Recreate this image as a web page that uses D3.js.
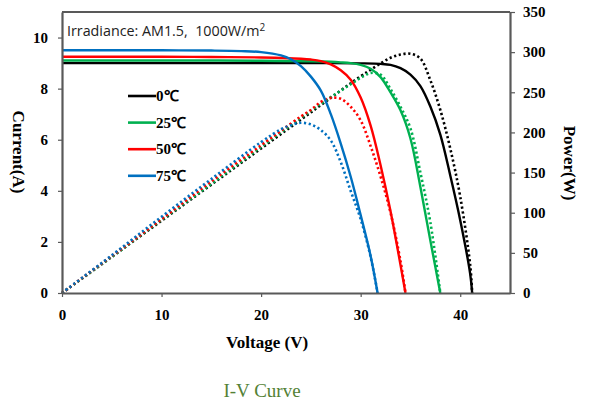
<!DOCTYPE html>
<html>
<head>
<meta charset="utf-8">
<script src="https://cdn.jsdelivr.net/npm/d3@7"></script>
<style>
  body { margin: 0; background: #fff; }
  #grafico { width: 592px; height: 403px; }
  .axis path, .axis line { stroke: #595959; }
  .axis text { font-family: "Liberation Serif", "Times New Roman", serif; font-weight: bold; font-size: 15px; fill: #000; }
</style>
</head>
<body>
<div id="grafico"></div>
<script>
// temperatures shown in the legend
var temps = ["0℃", "25℃", "50℃", "75℃"];
var cores = ["#000000", "#00b050", "#ff0000", "#0070c0"];

// I-V curves (voltage in V, current in A)
var v_0 = [0, 5, 10, 15, 20, 25, 30, 32, 33, 34, 35, 36, 37, 38, 39, 40, 41, 41.2];
var i_0 = [9.0, 9.0, 9.0, 9.0, 9.0, 9.0, 8.99, 8.97, 8.93, 8.8, 8.55, 8.1, 7.3, 6.2, 4.6, 2.85, 0.75, 0];
var v_25 = [0, 5, 10, 15, 20, 25, 27, 28, 29, 30, 31, 32, 33, 34, 35, 36, 37, 38];
var i_25 = [9.1, 9.1, 9.1, 9.1, 9.09, 9.07, 9.05, 9.03, 9.0, 8.93, 8.78, 8.45, 7.85, 7.15, 6.05, 4.15, 2.05, 0];
var v_50 = [0, 5, 10, 15, 20, 22, 24, 25, 26, 27, 28, 29, 30, 31, 32, 33, 34, 34.5];
var i_50 = [9.25, 9.25, 9.25, 9.24, 9.22, 9.2, 9.17, 9.14, 9.08, 8.95, 8.72, 8.35, 7.65, 6.55, 5.0, 3.2, 1.1, 0];
var v_75 = [0, 5, 10, 15, 18, 20, 22, 23, 24, 25, 26, 27, 28, 29, 30, 31, 31.7];
var i_75 = [9.5, 9.5, 9.5, 9.49, 9.47, 9.43, 9.3, 9.15, 8.88, 8.47, 7.92, 7.0, 5.85, 4.55, 3.05, 1.45, 0];

// P-V curves (dotted) (voltage in V, power in W)
var pv_0 = [0, 5, 10, 15, 20, 25, 30, 31, 32, 33, 34, 35, 36, 37, 38, 39, 40, 41, 41.2];
var p_0 = [0, 45, 90, 135, 180, 225, 270, 278, 286, 293, 297, 298, 292, 265, 228, 180, 120, 35, 0];
var pv_25 = [0, 5, 10, 15, 20, 25, 27, 28, 29, 30, 31, 32, 33, 34, 35, 36, 37, 38];
var p_25 = [0, 45, 91, 136, 182, 227, 244, 252, 260, 268, 274, 272, 254, 232, 205, 150, 88, 0];
var pv_50 = [0, 5, 10, 15, 20, 22, 24, 25, 26, 27, 28, 29, 30, 31, 32, 33, 34, 34.5];
var p_50 = [0, 46, 92, 139, 184, 202, 220, 228, 238, 243, 242, 232, 215, 183, 145, 100, 40, 0];
var pv_75 = [0, 5, 10, 15, 20, 22, 23, 24, 25, 26, 27, 28, 29, 30, 31, 31.7];
var p_75 = [0, 47, 95, 142, 188, 204, 209, 212, 210, 203, 190, 163, 127, 92, 45, 0];

// axis ticks
var ticks_x = [0, 10, 20, 30, 40];
var ticks_i = [0, 2, 4, 6, 8, 10];
var ticks_p = [0, 50, 100, 150, 200, 250, 300, 350];

function junta(xs, ys) {
	return xs.map(function(d, k) { return {v: d, y: ys[k]}; });
}

var curvas_iv = [junta(v_0, i_0), junta(v_25, i_25), junta(v_50, i_50), junta(v_75, i_75)];
var curvas_pv = [junta(pv_0, p_0), junta(pv_25, p_25), junta(pv_50, p_50), junta(pv_75, p_75)];

function monta_grafico() {

	var margin = {top: 12, right: 82, bottom: 110, left: 62},
		width = 592 - margin.left - margin.right,
		height = 403 - margin.top - margin.bottom;

	var x = d3.scaleLinear().domain([0, 45]).range([0, width]);
	var yI = d3.scaleLinear().domain([0, 11]).range([height, 0]);
	var yP = d3.scaleLinear().domain([0, 350]).range([height, 0]);

	var svg = d3.select("#grafico").append("svg")
		.attr("width", 592)
		.attr("height", 403);

	var g = svg.append("g")
		.attr("transform", "translate(" + margin.left + "," + margin.top + ")");

	// top border of the plot box
	g.append("line")
		.attr("x1", 0).attr("x2", width)
		.attr("y1", 0).attr("y2", 0)
		.style("stroke", "#222")
		.style("stroke-width", 1.5);

	// power lines (dotted), drawn first
	var linhaP = d3.line()
		.x(function(d) { return x(d.v); })
		.y(function(d) { return yP(d.y); })
		.curve(d3.curveCatmullRom.alpha(0.5));

	curvas_pv.forEach(function(c, k) {
		g.append("path")
			.datum(c)
			.attr("d", linhaP)
			.style("fill", "none")
			.style("stroke", cores[k])
			.style("stroke-width", 2.6)
			.style("stroke-dasharray", "2.2,2.6");
	});

	// current lines
	var linhaI = d3.line()
		.x(function(d) { return x(d.v); })
		.y(function(d) { return yI(d.y); })
		.curve(d3.curveCatmullRom.alpha(0.5));

	curvas_iv.forEach(function(c, k) {
		g.append("path")
			.datum(c)
			.attr("d", linhaI)
			.style("fill", "none")
			.style("stroke", cores[k])
			.style("stroke-width", 2.4);
	});

	// axes
	var ax = g.append("g")
		.attr("class", "axis")
		.attr("transform", "translate(0," + height + ")")
		.call(d3.axisBottom(x).tickValues(ticks_x).tickSize(4).tickPadding(12).tickSizeOuter(0));

	var ayI = g.append("g")
		.attr("class", "axis")
		.call(d3.axisLeft(yI).tickValues(ticks_i).tickSize(4).tickPadding(10).tickSizeOuter(0));

	var ayP = g.append("g")
		.attr("class", "axis")
		.attr("transform", "translate(" + width + ",0)")
		.call(d3.axisRight(yP).tickValues(ticks_p).tickSize(5).tickPadding(8).tickSizeOuter(0));

	[ax, ayI, ayP].forEach(function(a) {
		a.select(".domain").style("stroke-width", 2.2);
		a.selectAll(".tick line").style("stroke-width", 1.2);
	});

	// axis titles
	svg.append("text")
		.attr("x", margin.left + x(20.6))
		.attr("y", 348)
		.attr("text-anchor", "middle")
		.style("font-family", "Liberation Serif, serif")
		.style("font-weight", "bold")
		.style("font-size", "17px")
		.text("Voltage (V)");

	svg.append("text")
		.attr("transform", "translate(13,152) rotate(90)")
		.attr("text-anchor", "middle")
		.style("font-family", "Liberation Serif, serif")
		.style("font-weight", "bold")
		.style("font-size", "17px")
		.text("Current(A)");

	svg.append("text")
		.attr("transform", "translate(564,163) rotate(90)")
		.attr("text-anchor", "middle")
		.style("font-family", "Liberation Serif, serif")
		.style("font-weight", "bold")
		.style("font-size", "17px")
		.text("Power(W)");

	// irradiance note
	var nota = svg.append("text")
		.attr("x", 67)
		.attr("y", 36)
		.style("font-family", "Open Sans, sans-serif")
		.style("font-size", "14.3px")
		.style("fill", "#222")
		.text("Irradiance: AM1.5,\u00a0\u00a01000W/m");
	nota.append("tspan")
		.attr("dy", -5)
		.style("font-size", "10px")
		.text("2");

	// legend
	var leg = svg.append("g");
	temps.forEach(function(t, k) {
		var yy = 96 + k * 26.6;
		leg.append("line")
			.attr("x1", 128).attr("x2", 156)
			.attr("y1", yy).attr("y2", yy)
			.style("stroke", cores[k])
			.style("stroke-width", 2.6);
		leg.append("text")
			.attr("x", 156)
			.attr("y", yy + 5)
			.style("font-family", "Liberation Serif, serif")
			.style("font-weight", "bold")
			.style("font-size", "15px")
			.text(t);
	});

	// caption below the chart
	svg.append("text")
		.attr("x", 262)
		.attr("y", 397)
		.attr("text-anchor", "middle")
		.style("font-family", "Liberation Serif, serif")
		.style("font-size", "19px")
		.style("fill", "#538135")
		.text("I-V Curve");
}

monta_grafico();
</script>
</body>
</html>
